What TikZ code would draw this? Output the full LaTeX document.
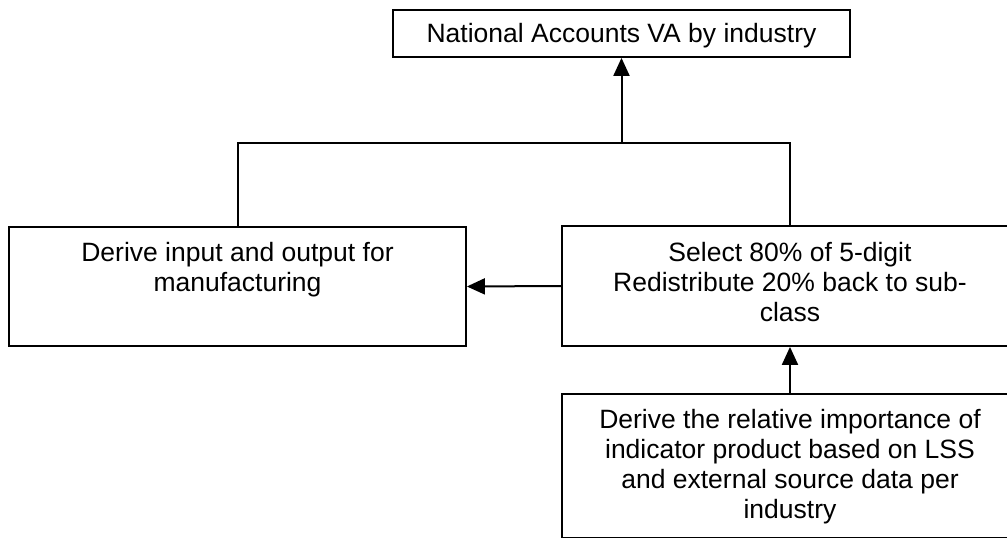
\documentclass[tikz,border=0pt]{standalone}
\usepackage{fontspec}
\setmainfont{Liberation Sans}
\usetikzlibrary{arrows.meta}
\begin{document}
\begin{tikzpicture}[x=1pt,y=-1pt,
  box/.style={draw=black, line width=1.8pt, inner sep=0pt, fill=none},
  txt/.style={inner sep=0pt, align=center, anchor=north,
    font=\fontsize{26.5}{30}\selectfont},
  wire/.style={draw=black, line width=2pt},
  arrow/.style={wire, -{Triangle[length=18pt,width=16pt]}}]
\useasboundingbox (0,0) rectangle (1007,538);
\clip (0,0) rectangle (1007,538);

% boxes
\node[box, minimum width=457pt, minimum height=47pt] (top) at (621.5,33.5) {};
\node[box, minimum width=457pt, minimum height=119pt] (left) at (237.5,286.5) {};
\node[box, minimum width=456pt, minimum height=120pt] (right) at (790,286) {};
\node[box, minimum width=456pt, minimum height=144pt] (bottom) at (790,466) {};

% box texts
\node[txt] (toptxt) at ([yshift=-14pt]top.north) {National Accounts VA by industry};
\node[txt] (lefttxt) at ([yshift=-16pt]left.north) {Derive input and output for\\manufacturing};
\node[txt] (righttxt) at ([yshift=-17pt]right.north) {Select 80\% of 5-digit\\Redistribute 20\% back to sub-\\class};
\node[txt] (bottomtxt) at ([yshift=-16pt]bottom.north) {Derive the relative importance of\\indicator product based on LSS\\and external source data per\\industry};

% connectors
\coordinate (join) at (621.5,143);
\draw[wire] (left.north) |- (join) -| (right.north);
\draw[arrow] (join) -- (top.south);
\draw[arrow] (right.west) -- (left.east);
\draw[arrow] (bottom.north) -- (right.south);
\end{tikzpicture}
\end{document}
